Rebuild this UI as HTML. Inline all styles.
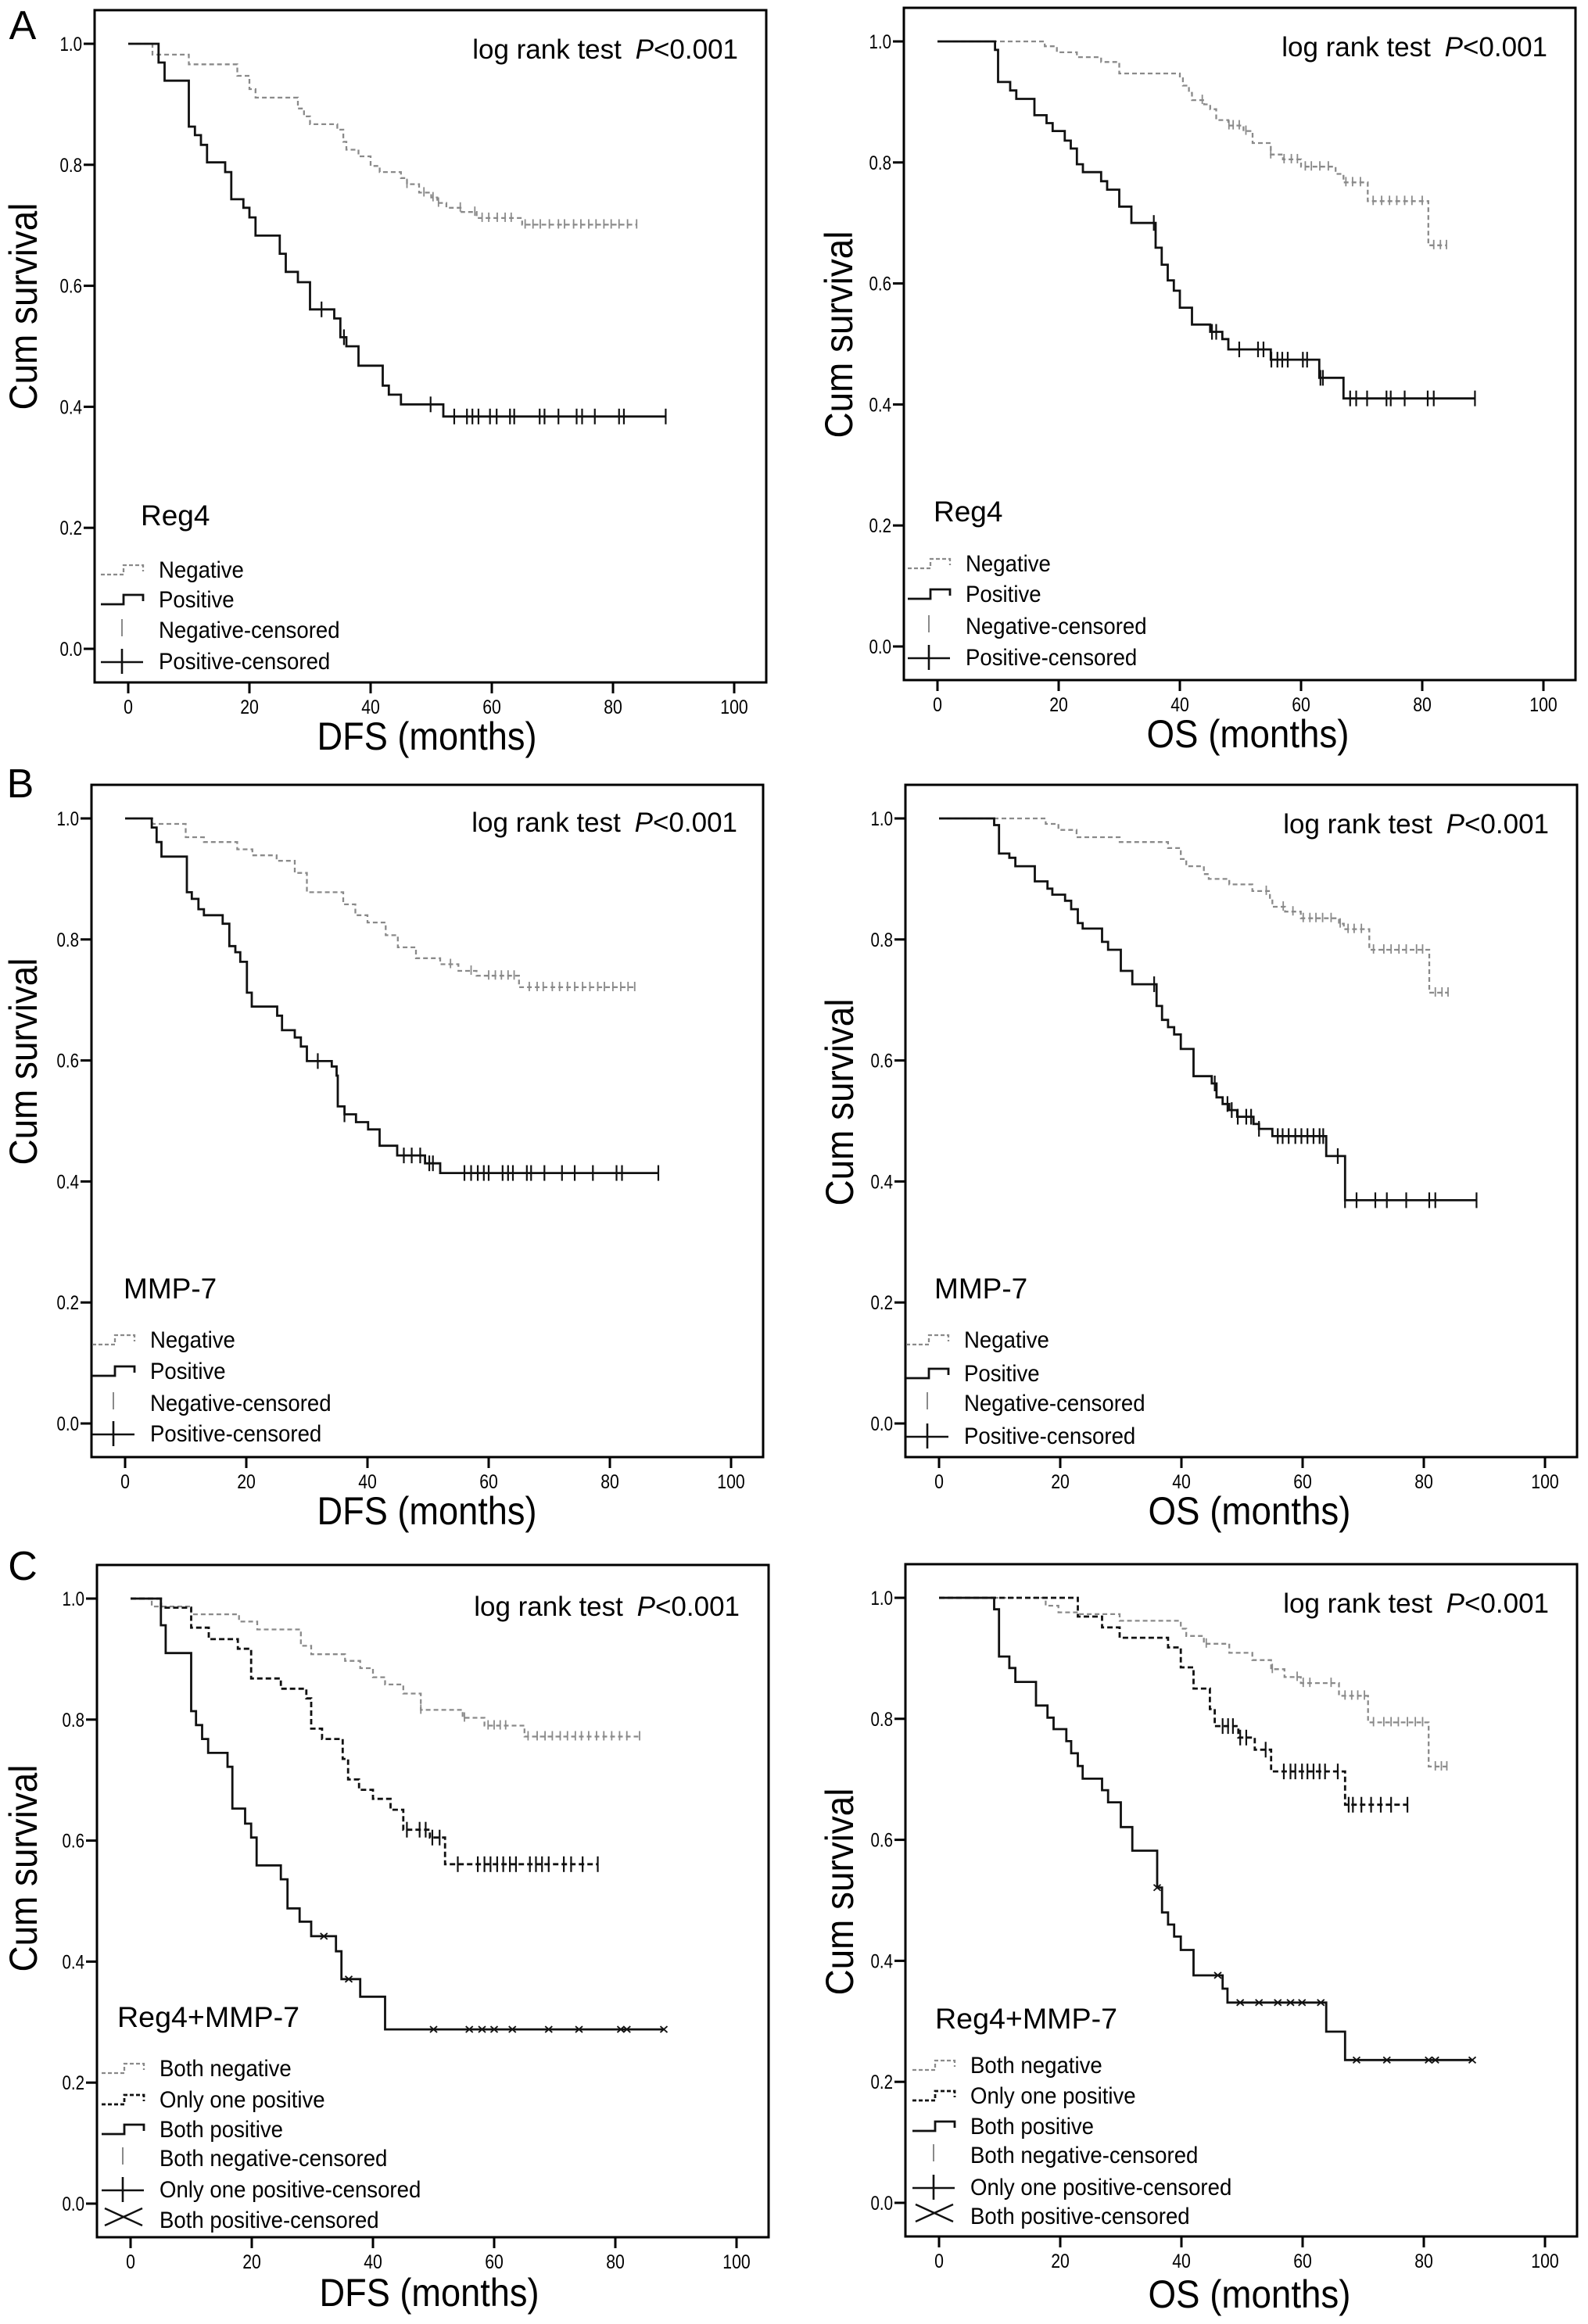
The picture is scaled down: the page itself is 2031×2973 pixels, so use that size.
<!DOCTYPE html>
<html><head><meta charset="utf-8">
<style>
html,body{margin:0;padding:0;background:#fff;}
svg{display:block;}
text{font-family:"Liberation Sans",Arial,sans-serif;fill:#000;}
.plet{font-size:52px;text-anchor:middle;}
.lr{font-size:35px;text-anchor:end;}
.yt{font-size:50px;text-anchor:middle;}
.xt{font-size:50px;text-anchor:middle;}
.lt{font-size:37px;}
.lg{font-size:30px;}
.tk{font-size:25px;}
</style></head>
<body>
<svg id="fig" width="2031" height="2973" viewBox="0 0 2031 2973" xmlns="http://www.w3.org/2000/svg">
<rect width="2031" height="2973" fill="#fff"/>

<g id="pA1" transform="translate(164,56)">
 <text class="plet" x="-135" y="-6">A</text>
 <text class="lr" x="780" y="19">log rank test <tspan dx="8" font-style="italic">P</tspan>&lt;0.001</text>
 <text class="yt" transform="translate(-117,336) rotate(-90)" textLength="265" lengthAdjust="spacingAndGlyphs">Cum survival</text>
 <text class="xt" x="382" y="903" textLength="281" lengthAdjust="spacingAndGlyphs">DFS (months)</text>
 <text class="lt" x="16" y="616">Reg4</text>
 <text class="lg" transform="translate(39,683) scale(0.92 1)">Negative</text>
 <text class="lg" transform="translate(39,721) scale(0.92 1)">Positive</text>
 <text class="lg" transform="translate(39,760) scale(0.92 1)">Negative-censored</text>
 <text class="lg" transform="translate(39,800) scale(0.92 1)">Positive-censored</text>
</g>

<g id="pA2" transform="translate(1199,53)">
 <text class="lr" x="780" y="19">log rank test <tspan dx="8" font-style="italic">P</tspan>&lt;0.001</text>
 <text class="yt" transform="translate(-109,375) rotate(-90)" textLength="265" lengthAdjust="spacingAndGlyphs">Cum survival</text>
 <text class="xt" x="397" y="903" textLength="259" lengthAdjust="spacingAndGlyphs">OS (months)</text>
 <text class="lt" x="-5" y="614">Reg4</text>
 <text class="lg" transform="translate(36,678) scale(0.92 1)">Negative</text>
 <text class="lg" transform="translate(36,717) scale(0.92 1)">Positive</text>
 <text class="lg" transform="translate(36,758) scale(0.92 1)">Negative-censored</text>
 <text class="lg" transform="translate(36,798) scale(0.92 1)">Positive-censored</text>
</g>

<g id="pB1" transform="translate(160,1047)">
 <text class="plet" x="-134" y="-27">B</text>
 <text class="lr" x="783" y="17">log rank test <tspan dx="8" font-style="italic">P</tspan>&lt;0.001</text>
 <text class="yt" transform="translate(-113,311) rotate(-90)" textLength="265" lengthAdjust="spacingAndGlyphs">Cum survival</text>
 <text class="xt" x="386" y="903" textLength="281" lengthAdjust="spacingAndGlyphs">DFS (months)</text>
 <text class="lt" x="-2" y="614">MMP-7</text>
 <text class="lg" transform="translate(32,677) scale(0.92 1)">Negative</text>
 <text class="lg" transform="translate(32,717) scale(0.92 1)">Positive</text>
 <text class="lg" transform="translate(32,758) scale(0.92 1)">Negative-censored</text>
 <text class="lg" transform="translate(32,797) scale(0.92 1)">Positive-censored</text>
</g>

<g id="pB2" transform="translate(1201,1047)">
 <text class="lr" x="780" y="19">log rank test <tspan dx="8" font-style="italic">P</tspan>&lt;0.001</text>
 <text class="yt" transform="translate(-110,363) rotate(-90)" textLength="265" lengthAdjust="spacingAndGlyphs">Cum survival</text>
 <text class="xt" x="397" y="903" textLength="259" lengthAdjust="spacingAndGlyphs">OS (months)</text>
 <text class="lt" x="-6" y="614">MMP-7</text>
 <text class="lg" transform="translate(32,677) scale(0.92 1)">Negative</text>
 <text class="lg" transform="translate(32,720) scale(0.92 1)">Positive</text>
 <text class="lg" transform="translate(32,758) scale(0.92 1)">Negative-censored</text>
 <text class="lg" transform="translate(32,800) scale(0.92 1)">Positive-censored</text>
</g>

<g id="pC1" transform="translate(167,2045)">
 <text class="plet" x="-138" y="-24">C</text>
 <text class="lr" x="779" y="22">log rank test <tspan dx="8" font-style="italic">P</tspan>&lt;0.001</text>
 <text class="yt" transform="translate(-120,345) rotate(-90)" textLength="265" lengthAdjust="spacingAndGlyphs">Cum survival</text>
 <text class="xt" x="382" y="905" textLength="281" lengthAdjust="spacingAndGlyphs">DFS (months)</text>
 <text class="lt" x="-17" y="548" textLength="233" lengthAdjust="spacingAndGlyphs">Reg4+MMP-7</text>
 <text class="lg" transform="translate(37,611) scale(0.92 1)">Both negative</text>
 <text class="lg" transform="translate(37,651) scale(0.92 1)">Only one positive</text>
 <text class="lg" transform="translate(37,689) scale(0.92 1)">Both positive</text>
 <text class="lg" transform="translate(37,726) scale(0.92 1)">Both negative-censored</text>
 <text class="lg" transform="translate(37,766) scale(0.92 1)">Only one positive-censored</text>
 <text class="lg" transform="translate(37,805) scale(0.92 1)">Both positive-censored</text>
</g>

<g id="pC2" transform="translate(1201,2044)">
 <text class="lr" x="780" y="19">log rank test <tspan dx="8" font-style="italic">P</tspan>&lt;0.001</text>
 <text class="yt" transform="translate(-110,376) rotate(-90)" textLength="265" lengthAdjust="spacingAndGlyphs">Cum survival</text>
 <text class="xt" x="397" y="908" textLength="259" lengthAdjust="spacingAndGlyphs">OS (months)</text>
 <text class="lt" x="-5" y="551" textLength="233" lengthAdjust="spacingAndGlyphs">Reg4+MMP-7</text>
 <text class="lg" transform="translate(40,608) scale(0.92 1)">Both negative</text>
 <text class="lg" transform="translate(40,647) scale(0.92 1)">Only one positive</text>
 <text class="lg" transform="translate(40,686) scale(0.92 1)">Both positive</text>
 <text class="lg" transform="translate(40,723) scale(0.92 1)">Both negative-censored</text>
 <text class="lg" transform="translate(40,764) scale(0.92 1)">Only one positive-censored</text>
 <text class="lg" transform="translate(40,801) scale(0.92 1)">Both positive-censored</text>
</g>
</svg>

<script>
// ---- Tick labels ----
const xTicks = [0, 20, 40, 60, 80, 100];
const yTicks = [0, 0.2, 0.4, 0.6, 0.8, 1.0];
const yTickLabels = ["0.0", "0.2", "0.4", "0.6", "0.8", "1.0"];

// ---- Panel A: Reg4 DFS ----
const aDfsNegT = [4,10,18,20,21,28,29,30,34.5,35.5,36,38,40,41.5,45,46,48,50,51,52.5,55,57.5,65];
const aDfsNegS = [0.982,0.966,0.947,0.925,0.911,0.893,0.880,0.867,0.858,0.838,0.825,0.814,0.798,0.788,0.778,0.768,0.754,0.746,0.737,0.729,0.722,0.712,0.701];
const aDfsNegC = [46,48.8,50.3,51.2,54.8,57.2,58.4,59.5,60.9,62.2,63.2,65.5,66.8,68,69.5,71,72,73.5,74.7,76,77.2,78.5,79.7,81,82.4,83.9];
const aDfsPosT = [5,6,10,11,12,13,16,17,19,20,21,25,26,28,30,34,35,36,38,42,43,45,52];
const aDfsPosS = [0.969,0.939,0.863,0.849,0.833,0.804,0.788,0.743,0.729,0.713,0.683,0.653,0.623,0.606,0.561,0.546,0.515,0.500,0.468,0.435,0.420,0.404,0.384];
const aDfsPosC = [31.9,35.6,49.9,53.8,55.9,56.8,57.8,59.7,60.8,63,63.7,67.9,68.7,71,74,74.9,77,81,81.8,88.7];

// ---- Panel A: Reg4 OS ----
const aOsNegT = [17.7,19.7,23,27,30,40,40.5,41.5,42,44,45,46,48,50.5,52,55,57,60,65.7,67,71,81];
const aOsNegS = [0.992,0.982,0.974,0.966,0.947,0.939,0.927,0.915,0.903,0.896,0.888,0.870,0.861,0.852,0.832,0.813,0.805,0.793,0.781,0.767,0.736,0.663];
const aOsNegC = [43.7,48.1,48.8,49.8,50.9,55,57.2,58.4,59.4,60.7,61.7,63.1,64.5,67.4,68.5,69.8,71.9,73.3,74.6,75.8,77.1,78.3,80,81.9,83,84];
const aOsPosT = [9.5,10,12,13,16,18,19,21,22,23,24,27,28,30,32,36,37,38,39,40,42,45,47,48,55,63,67];
const aOsPosS = [0.986,0.933,0.919,0.905,0.878,0.865,0.852,0.836,0.823,0.797,0.784,0.769,0.755,0.727,0.700,0.659,0.631,0.605,0.588,0.560,0.532,0.520,0.508,0.491,0.474,0.444,0.410];
const aOsPosC = [35.7,45.3,46,49.8,52.9,53.8,55.1,56.1,56.9,57.8,60.3,61,63.2,63.6,68.1,69.1,70.9,74.1,74.8,77.1,80.9,81.9,88.7];

// ---- Panel B: MMP-7 DFS ----
const bDfsNegT = [4.5,10,13,18.5,21,25,28,30,36,38,40,43,45,48,52,55,58,65];
const bDfsNegS = [0.991,0.969,0.961,0.949,0.939,0.930,0.910,0.878,0.858,0.840,0.828,0.807,0.787,0.769,0.759,0.748,0.740,0.721];
const bDfsNegC = [53.7,57.1,60,61.1,62.1,63.2,64.2,66.7,68,69,70.5,71.7,73,74.2,75.5,76.7,78,79.1,80.5,81.8,83,84.1];
const bDfsPosT = [4.4,5.2,6,10.2,11,12.1,13,16.1,17.2,18.2,19,20.1,20.9,25.1,25.9,28,29,30,34.1,34.9,35.1,36.2,38.1,40.1,42,44.9,49.5,52];
const bDfsPosS = [0.985,0.961,0.937,0.878,0.867,0.850,0.840,0.826,0.789,0.779,0.763,0.712,0.689,0.674,0.650,0.638,0.623,0.599,0.590,0.575,0.524,0.511,0.498,0.486,0.459,0.443,0.430,0.414];
const bDfsPosC = [31.8,36.2,46,47.3,48.7,50.2,50.8,56,57.1,58.2,59.2,60,62.3,63.2,64,66.3,67,69.2,72.1,74.2,77.2,81.1,82,88];

// ---- Panel B: MMP-7 OS ----
const bOsNegT = [17.6,19.7,22.7,29.8,37.8,39.9,40.8,43.7,44.5,47.9,51.7,54.6,55,57.1,59.7,66,66.8,71,80.9];
const bOsNegS = [0.991,0.981,0.969,0.961,0.951,0.933,0.921,0.908,0.900,0.891,0.880,0.867,0.854,0.846,0.835,0.826,0.817,0.783,0.712];
const bOsNegC = [54,56.8,58.4,60.1,61.2,62.2,63.3,64.7,66.2,67.5,68.5,69.7,71.7,73.4,74.6,75.9,77.1,78.8,79.8,81.9,83,84];
const bOsPosT = [9.1,9.9,11.6,12.6,15.8,17.9,18.7,20.8,21.8,22.9,23.7,26.9,27.9,30,31.9,35.9,36.8,37.8,38.8,39.9,42,45,45.8,46.8,47.9,49.2,51.9,52.8,55,63.9,67];
const bOsPosS = [0.989,0.942,0.935,0.921,0.896,0.884,0.874,0.864,0.850,0.827,0.818,0.796,0.783,0.748,0.726,0.690,0.667,0.655,0.643,0.619,0.574,0.562,0.539,0.528,0.518,0.507,0.495,0.487,0.475,0.442,0.369];
const bOsPosC = [35.5,45.5,47.6,48.3,49.3,50.7,51.5,52.8,55.9,56.7,57.7,58.8,59.8,60.8,61.8,62.8,63.4,65.8,67,68.9,72,73.9,77.1,80.9,81.9,88.7];

// ---- Panel C: Reg4+MMP-7 DFS ----
const cDfsNegT = [3.5,10,17.9,20.9,28.1,29.8,35.4,37.9,40,42,45,47.9,54.8,58.4,65];
const cDfsNegS = [0.987,0.974,0.962,0.949,0.922,0.908,0.897,0.885,0.870,0.858,0.843,0.816,0.803,0.790,0.772];
const cDfsNegC = [47.9,55.1,59,60,61,61.9,65.6,67.1,68.4,69.6,70.9,72.1,73.4,74.4,75.6,76.9,78.1,79.4,80.7,81.9,84];
const cDfsOneT = [5,10,12.9,17.7,19.9,24.8,29,29.8,31.6,35,35.9,37.7,40,42.9,45,49.4,51.9];
const cDfsOneS = [0.985,0.952,0.933,0.917,0.868,0.851,0.835,0.785,0.768,0.735,0.701,0.684,0.669,0.651,0.618,0.605,0.561];
const cDfsOneC = [45.6,47.7,48.7,49.8,51,54,57.3,58.4,59.4,60.5,61.5,62.6,63.6,65.9,66.9,67.9,69,71.5,72.7,74.6,77.1];
const cDfsPosT = [5,5.8,10,10.8,11.8,12.8,16,16.8,18.9,19.9,20.8,24.8,25.9,27.9,29.8,33.9,34.8,37.9,42];
const cDfsPosS = [0.956,0.910,0.814,0.791,0.768,0.745,0.722,0.653,0.628,0.605,0.559,0.536,0.488,0.466,0.442,0.417,0.371,0.342,0.288];
const cDfsPosC = [31.9,36,50,55.9,58,60,63,69,74,80.9,81.9,88];

// ---- Panel C: Reg4+MMP-7 OS ----
const cOsNegT = [17.6,19.7,22.9,29.8,39.9,40.8,43.7,47.9,51.7,54.8,57,59.7,66,70.8,80.8];
const cOsNegS = [0.987,0.976,0.973,0.962,0.949,0.937,0.924,0.909,0.897,0.882,0.869,0.859,0.838,0.794,0.721];
const cOsNegC = [44.1,55,59.1,60.1,61.2,64.7,67,68.1,69.1,70.2,71.7,73.4,74.6,75.8,77.3,78.6,79.8,81.9,82.9,83.8];
const cOsOneT = [22.9,26.9,29.8,37.8,39.9,42,44.7,45.5,49.4,52.1,54.8,67];
const cOsOneS = [0.969,0.951,0.934,0.918,0.885,0.850,0.816,0.788,0.769,0.749,0.713,0.658];
const cOsOneC = [46.8,47.7,48.5,49.7,50.7,53.9,56.9,58,58.8,59.9,60.8,61.8,62.8,63.7,65.8,67.6,68.3,69.7,71.3,72.9,74.6,77.3];
const cOsPosT = [9.1,9.9,11.6,12.6,16,17.9,18.9,21,21.8,22.9,23.7,26.9,27.9,30,31.9,36,36.8,37.8,38.8,39.9,42,46.8,47.6,63.9,67];
const cOsPosS = [0.981,0.903,0.884,0.861,0.822,0.802,0.783,0.763,0.743,0.722,0.701,0.682,0.662,0.621,0.582,0.521,0.480,0.460,0.440,0.418,0.376,0.354,0.331,0.283,0.236];
const cOsPosC = [36,46,49.7,52.8,55.9,58,59.9,63,68.9,73.9,80.8,81.9,88];

const NS = "http://www.w3.org/2000/svg";
const PXM = 7.75;
const PXU = 774;
function X(t){ return t * PXM; }
function Y(s){ return (1 - s) * PXU; }

function mk(tag, attrs, parent){
  const e = document.createElementNS(NS, tag);
  for (const k in attrs) e.setAttribute(k, attrs[k]);
  parent.appendChild(e);
  return e;
}
function levelAt(T, S, c){
  let s = 1;
  for (let i = 0; i < T.length; i++) if (T[i] <= c) s = S[i];
  return s;
}

const STY = {
  neg: {stroke:"#8a8a8a", w:2.3, dash:"6 4"},
  one: {stroke:"#111", w:2.8, dash:"7 4"},
  pos: {stroke:"#111", w:2.8, dash:null}
};

function drawAxes(g){
  const frame = mk("rect", {x:-43, y:-43, width:859, height:860, fill:"none", stroke:"#000", "stroke-width":3}, g);
  
  
  const bottom = PXU + 43;
  xTicks.forEach(function(v){
    const tk = mk("line", {x1:X(v), x2:X(v), y1:bottom, y2:bottom+14, stroke:"#000", "stroke-width":3}, g);
    
    
    const lb = mk("text", {class:"tk", transform:"translate(" + X(v) + "," + (bottom+40) + ") scale(0.85 1)", "text-anchor":"middle"}, g);
    lb.textContent = String(v);
    
    
  });
  yTicks.forEach(function(v, i){
    const tk = mk("line", {x1:-57, x2:-43, y1:Y(v), y2:Y(v), stroke:"#000", "stroke-width":3}, g);
    
    
    const lb = mk("text", {class:"tk", transform:"translate(-59," + (Y(v)+9) + ") scale(0.82 1)", "text-anchor":"end"}, g);
    lb.textContent = yTickLabels[i];
    
    
  });
}

function drawCurve(g, T, S, C, kind, mark, name){
  let end = Math.max(T.length ? T[T.length-1] : 0, C.length ? C[C.length-1] : 0);
  let d = "M0," + Y(1);
  for (let i = 0; i < T.length; i++) {
    d += " H" + X(T[i]).toFixed(1) + " V" + Y(S[i]).toFixed(1);
  }
  d += " H" + X(end).toFixed(1);
  const st = STY[kind];
  const a = {d:d, fill:"none", stroke:st.stroke, "stroke-width":st.w};
  if (st.dash) a["stroke-dasharray"] = st.dash;
  const p = mk("path", a, g);
  
  
  C.forEach(function(c){
    const x = X(c), y = Y(levelAt(T, S, c));
    let m;
    if (mark === "tick") {
      m = mk("line", {x1:x, x2:x, y1:y-7, y2:y+5, stroke:"#8a8a8a", "stroke-width":1.8}, g);
    } else if (mark === "plus") {
      m = mk("line", {x1:x, x2:x, y1:y-10, y2:y+10, stroke:"#111", "stroke-width":2.2}, g);
    } else {
      m = mk("path", {d:"M"+(x-4.5)+","+(y-4)+" L"+(x+4.5)+","+(y+4)+" M"+(x-4.5)+","+(y+4)+" L"+(x+4.5)+","+(y-4), stroke:"#111", "stroke-width":1.8, fill:"none"}, g);
    }
    
    
  });
}

function legendSym(g, tx, by, type){
  let e;
  if (type === "neg" || type === "one" || type === "pos") {
    const st = STY[type];
    const a = {d:"M"+(tx-74)+","+(by-4)+" H"+(tx-45)+" V"+(by-16)+" H"+(tx-20)+" V"+(by-8), fill:"none", stroke:st.stroke, "stroke-width":st.w};
    if (st.dash) a["stroke-dasharray"] = "5 3";
    e = mk("path", a, g);
  } else if (type === "negc") {
    e = mk("line", {x1:tx-47, x2:tx-47, y1:by-24, y2:by-2, stroke:"#8a8a8a", "stroke-width":2}, g);
  } else if (type === "posc") {
    e = mk("path", {d:"M"+(tx-74)+","+(by-9)+" H"+(tx-20)+" M"+(tx-47)+","+(by-26)+" V"+(by+6), fill:"none", stroke:"#111", "stroke-width":2.6}, g);
  } else {
    e = mk("path", {d:"M"+(tx-70)+","+(by-25)+" L"+(tx-22)+","+(by-3)+" M"+(tx-70)+","+(by-3)+" L"+(tx-22)+","+(by-25), fill:"none", stroke:"#111", "stroke-width":2.4}, g);
  }
  
  
}

function panel(id, curves, legTx, legYs, legTypes){
  const g = document.getElementById(id);
  drawAxes(g);
  curves.forEach(function(c){ drawCurve(g, c[0], c[1], c[2], c[3], c[4], c[5]); });
  legTypes.forEach(function(t, i){ legendSym(g, legTx, legYs[i], t); });
}

const two = ["neg","pos","negc","posc"];
const three = ["neg","one","pos","negc","posc","bothc"];

panel("pA1", [[aDfsNegT,aDfsNegS,aDfsNegC,"neg","tick","negative"],[aDfsPosT,aDfsPosS,aDfsPosC,"pos","plus","positive"]], 39, [683,721,760,800], two);
panel("pA2", [[aOsNegT,aOsNegS,aOsNegC,"neg","tick","negative"],[aOsPosT,aOsPosS,aOsPosC,"pos","plus","positive"]], 36, [678,717,758,798], two);
panel("pB1", [[bDfsNegT,bDfsNegS,bDfsNegC,"neg","tick","negative"],[bDfsPosT,bDfsPosS,bDfsPosC,"pos","plus","positive"]], 32, [677,717,758,797], two);
panel("pB2", [[bOsNegT,bOsNegS,bOsNegC,"neg","tick","negative"],[bOsPosT,bOsPosS,bOsPosC,"pos","plus","positive"]], 32, [677,720,758,800], two);
panel("pC1", [[cDfsNegT,cDfsNegS,cDfsNegC,"neg","tick","both-negative"],[cDfsOneT,cDfsOneS,cDfsOneC,"one","plus","only-one-positive"],[cDfsPosT,cDfsPosS,cDfsPosC,"pos","x","both-positive"]], 37, [611,651,689,726,766,805], three);
panel("pC2", [[cOsNegT,cOsNegS,cOsNegC,"neg","tick","both-negative"],[cOsOneT,cOsOneS,cOsOneC,"one","plus","only-one-positive"],[cOsPosT,cOsPosS,cOsPosC,"pos","x","both-positive"]], 40, [608,647,686,723,764,801], three);
</script>
</body></html>
